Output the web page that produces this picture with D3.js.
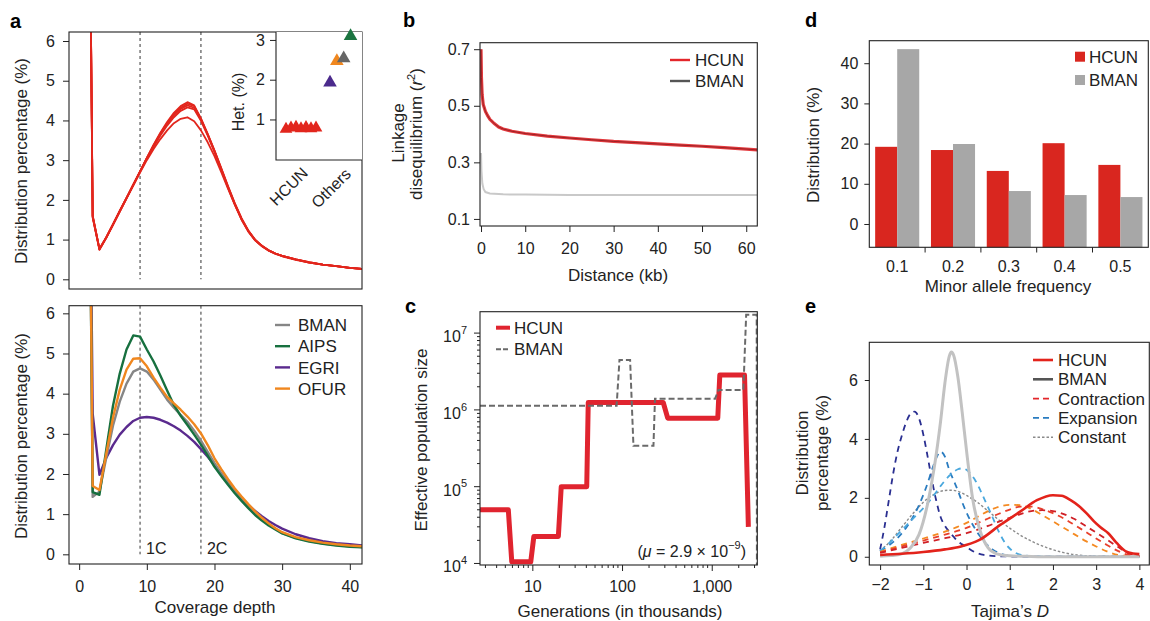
<!DOCTYPE html>
<html>
<head>
<meta charset="utf-8">
<script src="https://cdn.jsdelivr.net/npm/d3@7"></script>
<style>
  body { margin: 0; background: #fff; }
  svg { font-family: "Liberation Sans", Arial, Helvetica, sans-serif; }
</style>
</head>
<body>
<div id="chart"></div>
<script>
// ---------- panel a : coverage depth ----------
const depth = [1,2,3,4,5,6,7,8,9,10,11,12,13,14,15,16,17,18,19,20,21,22,23,24,25,26,27,28,29,30,32,34,36,38,40,42];
const hcunDepth = [
  [20,1.58,0.75,1.05,1.38,1.72,2.05,2.38,2.72,3.06,3.39,3.69,3.96,4.19,4.36,4.46,4.38,4.04,3.64,3.22,2.76,2.3,1.88,1.5,1.2,0.98,0.83,0.72,0.64,0.58,0.49,0.42,0.37,0.33,0.29,0.26],
  [20,1.6,0.77,1.06,1.39,1.72,2.05,2.38,2.71,3.05,3.37,3.67,3.93,4.16,4.32,4.42,4.36,4.05,3.66,3.24,2.79,2.33,1.9,1.52,1.22,0.99,0.84,0.73,0.65,0.59,0.5,0.43,0.37,0.33,0.29,0.26],
  [20,1.55,0.74,1.04,1.37,1.71,2.04,2.38,2.72,3.05,3.36,3.65,3.91,4.13,4.29,4.38,4.32,4.02,3.65,3.24,2.8,2.35,1.92,1.54,1.23,1.0,0.85,0.73,0.65,0.59,0.5,0.43,0.37,0.33,0.29,0.26],
  [20,1.57,0.76,1.05,1.38,1.72,2.05,2.38,2.71,3.04,3.34,3.62,3.87,4.08,4.24,4.33,4.28,3.99,3.62,3.21,2.77,2.32,1.9,1.52,1.22,0.99,0.84,0.73,0.65,0.59,0.5,0.42,0.37,0.33,0.29,0.26],
  [20,1.6,0.76,1.05,1.37,1.7,2.03,2.36,2.69,3.0,3.28,3.53,3.75,3.93,4.04,4.08,3.98,3.75,3.45,3.1,2.7,2.28,1.88,1.51,1.21,0.99,0.84,0.73,0.65,0.59,0.5,0.42,0.37,0.33,0.29,0.26]
];
const otherSpecies = ["BMAN", "AIPS", "EGRI", "OFUR"];
const otherDepth = {
  EGRI: [20,3.5,1.98,2.4,2.72,2.98,3.17,3.32,3.4,3.42,3.4,3.35,3.28,3.19,3.08,2.95,2.8,2.62,2.43,2.22,2.0,1.79,1.59,1.4,1.23,1.08,0.95,0.83,0.73,0.64,0.5,0.4,0.33,0.28,0.25,0.22],
  BMAN: [20,1.43,1.56,2.4,3.2,3.8,4.25,4.55,4.63,4.55,4.35,4.1,3.85,3.65,3.47,3.3,3.08,2.83,2.55,2.27,2.02,1.78,1.56,1.37,1.19,1.02,0.87,0.74,0.63,0.53,0.41,0.33,0.27,0.23,0.2,0.18],
  AIPS: [20,1.55,1.48,2.6,3.7,4.5,5.1,5.45,5.42,5.1,4.8,4.45,4.08,3.72,3.45,3.22,2.98,2.73,2.46,2.18,1.95,1.73,1.52,1.33,1.15,0.98,0.84,0.72,0.62,0.52,0.4,0.32,0.26,0.22,0.19,0.17],
  OFUR: [20,1.7,1.6,2.5,3.4,4.1,4.6,4.87,4.88,4.68,4.4,4.15,3.92,3.76,3.6,3.43,3.24,3.01,2.72,2.39,2.12,1.87,1.64,1.44,1.25,1.07,0.91,0.77,0.65,0.55,0.43,0.35,0.29,0.25,0.22,0.2]
};
const depthMarks = [9, 18];
const depthMarkLabels = ["1C", "2C"];
const depthTicks = [0, 10, 20, 30, 40];
const pctTicks = [0, 1, 2, 3, 4, 5, 6];
// inset heterozygosity
const hetHCUN = [0.76, 0.79, 0.81, 0.77, 0.8, 0.77, 0.79];
const hetOthers = [1.93, 2.47, 2.54, 3.1];
const hetOtherSpecies = ["EGRI", "OFUR", "BMAN", "AIPS"];
const hetTicks = [1, 2, 3];

// ---------- panel b : LD decay ----------
const ldDist = {
  HCUN: [0, 0.1, 0.25, 0.5, 1, 1.5, 2, 3, 4, 5, 7, 10, 15, 20, 25, 30, 35, 40, 45, 50, 55, 60, 62.5],
  BMAN: [0, 0.1, 0.3, 0.6, 1, 2, 5, 10, 20, 30, 40, 50, 62.5]
};
const ldR2 = {
  HCUN: [0.7, 0.6, 0.54, 0.505, 0.48, 0.465, 0.452, 0.437, 0.425, 0.418, 0.41, 0.402, 0.393, 0.386, 0.38, 0.374, 0.37, 0.365, 0.361, 0.357, 0.352, 0.347, 0.344],
  BMAN: [0.333, 0.27, 0.225, 0.205, 0.195, 0.19, 0.187, 0.186, 0.185, 0.185, 0.185, 0.185, 0.185]
};
const ldXTicks = [0, 10, 20, 30, 40, 50, 60];
const ldYTicks = [0.1, 0.3, 0.5, 0.7];

// ---------- panel c : PSMC ----------
const psmcGen = {
  HCUN: [2.61, 5.4, 5.9, 9.6, 10.4, 19.5, 21, 40.4, 42, 288, 323, 1167, 1230, 2320, 2560],
  BMAN: [2.61, 87, 93.6, 123, 134, 224, 233, 1090, 1190, 2250, 2420, 3170, 3190]
};
const psmcNe = {
  HCUN: [5e4, 5e4, 1.05e4, 1.05e4, 2.25e4, 2.25e4, 1e5, 1e5, 1.25e6, 1.25e6, 7.8e5, 7.8e5, 2.85e6, 2.85e6, 3e4],
  BMAN: [1.13e6, 1.13e6, 4.47e6, 4.47e6, 3.4e5, 3.4e5, 1.4e6, 1.4e6, 1.82e6, 1.82e6, 1.73e7, 1.73e7, 5e3]
};
const genTicks = [10, 100, 1000];
const neExponents = [4, 5, 6, 7];

// ---------- panel d : MAF ----------
const mafBins = ["0.1", "0.2", "0.3", "0.4", "0.5"];
const mafHCUN = [19.2, 18.4, 13.2, 20.1, 14.7];
const mafBMAN = [43.5, 19.9, 8.2, 7.2, 6.7];
const mafTicks = [0, 10, 20, 30, 40];

// ---------- panel e : Tajima's D ----------
const tajHCUN_x = [-2, -1.5, -1, -0.5, -0.15, 0.3, 0.78, 1.24, 1.63, 2.0, 2.2, 2.4, 2.6, 2.78, 2.95, 3.1, 3.28, 3.48, 3.7, 3.85, 4];
const tajHCUN_y = [0.06, 0.1, 0.16, 0.25, 0.34, 0.57, 1.08, 1.53, 1.92, 2.09, 2.07, 1.93, 1.72, 1.47, 1.2, 1.0, 0.8, 0.46, 0.17, 0.11, 0.09];
const tajBMAN_x = [-2, -1.75, -1.5, -1.3, -1.1, -0.9, -0.75, -0.6, -0.5, -0.4, -0.35, -0.3, -0.2, -0.1, 0, 0.15, 0.3, 0.5, 0.7, 1, 1.5, 2, 3, 4];
const tajBMAN_y = [0.02, 0.04, 0.1, 0.3, 0.75, 1.8, 3.0, 4.6, 5.9, 6.8, 6.95, 6.85, 6.1, 4.9, 3.6, 1.9, 0.95, 0.3, 0.1, 0.03, 0.01, 0, 0, 0];
const contrX = [-2, -1.5, -1, -0.5, 0, 0.5, 0.75, 1, 1.25, 1.5, 1.75, 2, 2.25, 2.5, 2.75, 3, 3.25, 3.5, 3.75, 4];
const contrY = [
  [0.17, 0.4, 0.62, 0.85, 1.15, 1.55, 1.7, 1.76, 1.75, 1.62, 1.42, 1.2, 0.98, 0.76, 0.54, 0.35, 0.18, 0.06, 0.02, 0.01],
  [0.15, 0.35, 0.55, 0.75, 0.98, 1.3, 1.46, 1.6, 1.7, 1.7, 1.62, 1.48, 1.3, 1.08, 0.85, 0.62, 0.4, 0.2, 0.06, 0.02],
  [0.13, 0.3, 0.47, 0.63, 0.8, 1.05, 1.19, 1.32, 1.45, 1.55, 1.58, 1.55, 1.45, 1.28, 1.05, 0.82, 0.58, 0.34, 0.12, 0.03]
];
const contrColors = ["#f48a22", "#e8402c", "#cf2027"];
const expX = [
  [-2, -1.9, -1.8, -1.7, -1.6, -1.5, -1.4, -1.3, -1.2, -1.1, -1.0, -0.9, -0.8, -0.7, -0.6, -0.5, -0.4, -0.3, -0.2, -0.1, 0, 0.2, 0.4, 0.7, 1, 2, 3, 4],
  [-2, -1.8, -1.6, -1.4, -1.2, -1.0, -0.9, -0.8, -0.7, -0.6, -0.5, -0.4, -0.3, -0.2, -0.1, 0, 0.1, 0.2, 0.3, 0.45, 0.6, 0.8, 1, 1.5, 2, 3, 4],
  [-2, -1.8, -1.6, -1.4, -1.2, -1.0, -0.8, -0.6, -0.4, -0.3, -0.2, -0.1, 0, 0.1, 0.2, 0.3, 0.4, 0.5, 0.6, 0.7, 0.8, 0.9, 1.0, 1.2, 1.5, 2, 3, 4]
];
const expY = [
  [0.25, 1.0, 1.9, 2.8, 3.55, 4.1, 4.55, 4.85, 4.93, 4.7, 4.15, 3.4, 2.6, 1.9, 1.35, 1.05, 0.85, 0.68, 0.52, 0.42, 0.33, 0.15, 0.06, 0.02, 0.01, 0, 0, 0],
  [0.2, 0.38, 0.63, 0.98, 1.45, 2.1, 2.5, 2.95, 3.35, 3.57, 3.4, 2.95, 2.6, 2.25, 1.85, 1.5, 1.2, 0.95, 0.72, 0.45, 0.25, 0.1, 0.04, 0.01, 0, 0, 0],
  [0.2, 0.45, 0.75, 1.05, 1.35, 1.65, 2.0, 2.4, 2.75, 2.88, 2.97, 3.0, 2.95, 2.8, 2.6, 2.32, 2.0, 1.68, 1.35, 1.0, 0.7, 0.45, 0.28, 0.09, 0.02, 0, 0, 0]
];
const expColors = ["#2a2f91", "#2a7cc0", "#4aa8de"];
const constX = [-2, -1.75, -1.5, -1.25, -1.0, -0.75, -0.5, -0.35, -0.2, 0, 0.25, 0.5, 0.75, 1.0, 1.25, 1.5, 1.75, 2.0, 2.25, 2.5, 3, 3.5, 4];
const constY = [0.2, 0.55, 1.0, 1.45, 1.85, 2.12, 2.25, 2.26, 2.22, 2.08, 1.85, 1.55, 1.25, 0.97, 0.73, 0.53, 0.37, 0.24, 0.14, 0.07, 0.02, 0.01, 0];
const tajXTicks = [-2, -1, 0, 1, 2, 3, 4];
const tajYTicks = [0, 2, 4, 6];

// ---------- colours ----------
const red = "#e2261d";
const speciesColor = { BMAN: "#868686", AIPS: "#17703f", EGRI: "#5a2a8e", OFUR: "#f0871f" };
const markerColor = { EGRI: "#4b2a8c", OFUR: "#f0871f", BMAN: "#666666", AIPS: "#1b7440" };
const ink = "#222";
const intFmt = d3.format("d");

const svg = d3.select("#chart").append("svg").attr("width", 1150).attr("height", 621);
const defs = svg.append("defs");

function clip(id, x0, y0, x1, y1) {
  defs.append("clipPath").attr("id", id).append("rect")
    .attr("x", x0).attr("y", y0).attr("width", x1 - x0).attr("height", y1 - y0);
  return "url(#" + id + ")";
}
function frame(x0, y0, x1, y1) {
  svg.append("rect").attr("x", x0).attr("y", y0).attr("width", x1 - x0).attr("height", y1 - y0)
    .attr("fill", "none").attr("stroke", ink).attr("stroke-width", 1.1);
}
function styleAxis(g) {
  g.attr("font-size", 16).attr("font-family", null);
  g.select(".domain").remove();
  g.selectAll(".tick line").attr("stroke", ink);
  g.selectAll(".tick text").attr("fill", ink);
  return g;
}
function text(x, y, t, anchor, size) {
  return svg.append("text").attr("x", x).attr("y", y).attr("text-anchor", anchor || "middle")
    .attr("font-size", size || 17).attr("fill", ink).text(t);
}
function vtext(x, y, t, size) {
  return svg.append("text").attr("transform", "translate(" + x + "," + y + ") rotate(-90)")
    .attr("text-anchor", "middle").attr("font-size", size || 17).attr("fill", ink).text(t);
}
function letter(x, y, t) {
  svg.append("text").attr("x", x).attr("y", y).attr("font-size", 20).attr("font-weight", "bold")
    .attr("fill", "#000").text(t);
}

// =============== PANEL A ===============
letter(10, 28, "a");
const xA = d3.scaleLinear().domain([-1.5, 41.8]).range([69, 362]);
const yA1 = d3.scaleLinear().domain([-0.244, 6.227]).range([289, 32]);
const yA2 = d3.scaleLinear().domain([-0.241, 6.19]).range([564, 305.7]);

// top
const clipA1 = clip("ca1", 69, 32, 362, 289);
svg.append("g").selectAll("line").data(depthMarks).join("line")
  .attr("x1", d => xA(d)).attr("x2", d => xA(d)).attr("y1", 32).attr("y2", yA1(0))
  .attr("stroke", "#333").attr("stroke-width", 1).attr("stroke-dasharray", "3,3");
const lineA1 = d3.line().x((d, i) => xA(depth[i])).y(d => yA1(d));
svg.append("g").attr("clip-path", clipA1).selectAll("path").data(hcunDepth).join("path")
  .attr("d", lineA1).attr("fill", "none").attr("stroke", red).attr("stroke-width", 1.8)
  .attr("stroke-linejoin", "round");
styleAxis(svg.append("g").attr("transform", "translate(69,0)")
  .call(d3.axisLeft(yA1).tickValues(pctTicks).tickFormat(intFmt).tickSize(6).tickPadding(8)));
frame(69, 32, 362, 289);
vtext(27, 161, "Distribution percentage (%)");

// inset
const xIn = d3.scaleLinear().domain([0, 17.2]).range([276, 362]);
const yIn = d3.scaleLinear().domain([-0.02, 3.2]).range([160, 32]);
svg.append("rect").attr("x", 276).attr("y", 32).attr("width", 86).attr("height", 128).attr("fill", "#fff");
const tri = d3.symbol().type(d3.symbolTriangle).size(70);
svg.append("g").selectAll("path").data(hetHCUN).join("path")
  .attr("d", tri).attr("fill", red)
  .attr("transform", (d, i) => "translate(" + xIn(2 + i) + "," + yIn(d) + ")");
svg.append("g").selectAll("path").data(hetOthers).join("path")
  .attr("d", d3.symbol().type(d3.symbolTriangle).size(80)).attr("fill", (d, i) => markerColor[hetOtherSpecies[i]])
  .attr("transform", (d, i) => "translate(" + xIn(10.8 + i * 1.37) + "," + yIn(d) + ")");
styleAxis(svg.append("g").attr("transform", "translate(276,0)")
  .call(d3.axisLeft(yIn).tickValues(hetTicks).tickFormat(intFmt).tickSize(6).tickPadding(5)));
svg.append("path").attr("d", "M276,32V160H362").attr("fill", "none").attr("stroke", ink).attr("stroke-width", 1.1);
vtext(244, 102, "Het. (%)", 16);
svg.append("text").attr("transform", "translate(" + xIn(6.6) + ",174) rotate(-45)")
  .attr("text-anchor", "end").attr("font-size", 16).attr("fill", ink).text("HCUN");
svg.append("text").attr("transform", "translate(" + xIn(15.2) + ",175) rotate(-45)")
  .attr("text-anchor", "end").attr("font-size", 16).attr("fill", ink).text("Others");

// bottom
const clipA2 = clip("ca2", 69, 305.7, 362, 564);
svg.append("g").selectAll("line").data(depthMarks).join("line")
  .attr("x1", d => xA(d)).attr("x2", d => xA(d)).attr("y1", 305.7).attr("y2", yA2(0))
  .attr("stroke", "#333").attr("stroke-width", 1).attr("stroke-dasharray", "3,3");
svg.append("g").selectAll("text").data(depthMarks).join("text")
  .attr("x", d => xA(d) + 6).attr("y", 554).attr("font-size", 16).attr("fill", ink)
  .text((d, i) => depthMarkLabels[i]);
const lineA2 = d3.line().x((d, i) => xA(depth[i])).y(d => yA2(d));
svg.append("g").attr("clip-path", clipA2).selectAll("path").data(["EGRI", "BMAN", "AIPS", "OFUR"]).join("path")
  .attr("d", s => lineA2(otherDepth[s])).attr("fill", "none").attr("stroke", s => speciesColor[s])
  .attr("stroke-width", 2.4).attr("stroke-linejoin", "round");
styleAxis(svg.append("g").attr("transform", "translate(69,0)")
  .call(d3.axisLeft(yA2).tickValues(pctTicks).tickFormat(intFmt).tickSize(6).tickPadding(8)));
styleAxis(svg.append("g").attr("transform", "translate(0,564)")
  .call(d3.axisBottom(xA).tickValues(depthTicks).tickFormat(intFmt).tickSize(6).tickPadding(10.5)));
frame(69, 305.7, 362, 564);
vtext(27, 436, "Distribution percentage (%)");
text(215, 613, "Coverage depth");
const legA = svg.append("g").selectAll("g").data(otherSpecies).join("g")
  .attr("transform", (d, i) => "translate(275," + (325 + i * 21.2) + ")");
legA.append("line").attr("x1", 0).attr("x2", 15).attr("stroke", d => speciesColor[d]).attr("stroke-width", 2.4);
legA.append("text").attr("x", 23).attr("dy", "0.36em").attr("font-size", 17).attr("fill", ink).text(d => d);

// =============== PANEL B ===============
letter(403, 27, "b");
const xB = d3.scaleLinear().domain([-0.23, 62.5]).range([480, 757.3]);
const yB = d3.scaleLinear().domain([0.075, 0.723]).range([226, 42.7]);
const clipB = clip("cb", 480, 42.7, 757.3, 226);
const gB = svg.append("g").attr("clip-path", clipB);
const ldLine = k => d3.line().x((d, i) => xB(ldDist[k][i])).y(d => yB(d))(ldR2[k]);
gB.append("path").attr("d", ldLine("BMAN")).attr("fill", "none").attr("stroke", "#c9c9c9").attr("stroke-width", 2);
gB.append("path").attr("d", ldLine("HCUN")).attr("fill", "none").attr("stroke", "#e33a3e").attr("stroke-width", 3.2);
gB.append("path").attr("d", ldLine("HCUN")).attr("fill", "none").attr("stroke", "#8a1c1f").attr("stroke-width", 1).attr("opacity", 0.8);
styleAxis(svg.append("g").attr("transform", "translate(480,0)")
  .call(d3.axisLeft(yB).tickValues(ldYTicks).tickFormat(d3.format(".1f")).tickSize(6).tickPadding(4)));
styleAxis(svg.append("g").attr("transform", "translate(0,226)")
  .call(d3.axisBottom(xB).tickValues(ldXTicks).tickFormat(intFmt).tickSize(6).tickPadding(10.5)));
frame(480, 42.7, 757.3, 226);
vtext(404, 133, "Linkage");
const ldT = svg.append("text").attr("transform", "translate(422,134) rotate(-90)")
  .attr("text-anchor", "middle").attr("font-size", 17).attr("fill", ink);
ldT.append("tspan").text("disequilibrium (");
ldT.append("tspan").attr("font-style", "italic").text("r");
ldT.append("tspan").attr("font-size", 11).attr("dy", "-0.6em").text("2");
ldT.append("tspan").attr("dy", "0.4em").text(")");
text(618, 281, "Distance (kb)");
const legB = svg.append("g").selectAll("g").data(["HCUN", "BMAN"]).join("g")
  .attr("transform", (d, i) => "translate(670," + (60 + i * 21) + ")");
legB.append("line").attr("x1", 0).attr("x2", 20).attr("stroke", (d, i) => i ? "#555" : "#e3262b").attr("stroke-width", 2.4);
legB.append("text").attr("x", 25).attr("dy", "0.36em").attr("font-size", 17).attr("fill", ink).text(d => d);

// =============== PANEL C ===============
letter(405, 313, "c");
const xC = d3.scaleLog().domain([2.61, 3220]).range([480, 757.3]);
const yC = d3.scaleLog().domain([9550, 1.9e7]).range([565, 311.7]);
const clipC = clip("cc", 480, 311.7, 757.3, 565);
const gC = svg.append("g").attr("clip-path", clipC);
const psmcLine = k => d3.line().x((d, i) => xC(psmcGen[k][i])).y(d => yC(d))(psmcNe[k]);
gC.append("path").attr("d", psmcLine("HCUN")).attr("fill", "none").attr("stroke", "#e0242f")
  .attr("stroke-width", 5).attr("stroke-linejoin", "round");
gC.append("path").attr("d", psmcLine("BMAN")).attr("fill", "none").attr("stroke", "#6a6a6a")
  .attr("stroke-width", 2).attr("stroke-dasharray", "6,3");
// y ticks major + minor
const yMinor = [];
neExponents.forEach(e => { for (let m = 2; m <= 9; m++) { const v = m * Math.pow(10, e); if (v < 1.9e7) yMinor.push(v); } });
svg.append("g").selectAll("line").data(yMinor).join("line")
  .attr("x1", 477).attr("x2", 480).attr("y1", d => yC(d)).attr("y2", d => yC(d)).attr("stroke", ink);
svg.append("g").selectAll("line").data(neExponents).join("line")
  .attr("x1", 474).attr("x2", 480).attr("y1", d => yC(Math.pow(10, d))).attr("y2", d => yC(Math.pow(10, d))).attr("stroke", ink);
const yLab = svg.append("g").selectAll("text").data(neExponents).join("text")
  .attr("x", 467).attr("y", d => yC(Math.pow(10, d)) + 9).attr("text-anchor", "end")
  .attr("font-size", 16).attr("fill", ink);
yLab.append("tspan").text("10");
yLab.append("tspan").attr("font-size", 11).attr("dy", "-0.75em").text(d => d);
// x ticks
const xMinor = [3, 4, 5, 6, 7, 8, 9, 20, 30, 40, 50, 60, 70, 80, 90, 200, 300, 400, 500, 600, 700, 800, 900, 2000, 3000];
svg.append("g").selectAll("line").data(xMinor).join("line")
  .attr("x1", d => xC(d)).attr("x2", d => xC(d)).attr("y1", 565).attr("y2", 568).attr("stroke", ink);
styleAxis(svg.append("g").attr("transform", "translate(0,565)")
  .call(d3.axisBottom(xC).tickValues(genTicks).tickFormat(d3.format(",")).tickSize(6).tickPadding(9.5)));
frame(480, 311.7, 757.3, 565);
vtext(427, 440, "Effective population size");
text(620, 617, "Generations (in thousands)");
const mu = svg.append("text").attr("x", 746).attr("y", 557).attr("text-anchor", "end")
  .attr("font-size", 16).attr("fill", ink);
mu.append("tspan").text("(");
mu.append("tspan").attr("font-style", "italic").text("μ");
mu.append("tspan").text(" = 2.9 × 10");
mu.append("tspan").attr("font-size", 11).attr("dy", "-0.7em").text("−9");
mu.append("tspan").attr("dy", "0.45em").text(")");
const legC = svg.append("g").selectAll("g").data(["HCUN", "BMAN"]).join("g")
  .attr("transform", (d, i) => "translate(496," + (327.7 + i * 21.6) + ")");
legC.append("line").attr("x1", 0).attr("x2", 14).attr("stroke", (d, i) => i ? "#6a6a6a" : "#e0242f")
  .attr("stroke-width", (d, i) => i ? 2 : 4).attr("stroke-dasharray", (d, i) => i ? "5,2" : null);
legC.append("text").attr("x", 18).attr("dy", "0.36em").attr("font-size", 17).attr("fill", ink).text(d => d);

// =============== PANEL D ===============
letter(805, 27, "d");
const xD = d3.scaleBand().domain(mafBins).range([869.3, 1148.3]).paddingInner(0.21).paddingOuter(0.105);
const yD = d3.scaleLinear().domain([-5.8, 45.6]).range([247.3, 40.7]);
const bw = xD.bandwidth() / 2;
svg.append("g").selectAll("rect").data(mafHCUN).join("rect")
  .attr("x", (d, i) => xD(mafBins[i])).attr("width", bw)
  .attr("y", d => yD(d)).attr("height", d => 247.3 - yD(d)).attr("fill", "#d9261f");
svg.append("g").selectAll("rect").data(mafBMAN).join("rect")
  .attr("x", (d, i) => xD(mafBins[i]) + bw).attr("width", bw)
  .attr("y", d => yD(d)).attr("height", d => 247.3 - yD(d)).attr("fill", "#a7a7a7");
styleAxis(svg.append("g").attr("transform", "translate(869.3,0)")
  .call(d3.axisLeft(yD).tickValues(mafTicks).tickFormat(intFmt).tickSize(5).tickPadding(6)));
svg.append("g").selectAll("line").data(mafBins.slice(0, 4)).join("line")
  .attr("x1", d => xD(d) + xD.bandwidth() + (xD.step() - xD.bandwidth()) / 2)
  .attr("x2", d => xD(d) + xD.bandwidth() + (xD.step() - xD.bandwidth()) / 2)
  .attr("y1", 247.3).attr("y2", 252.5).attr("stroke", ink);
svg.append("g").selectAll("text").data(mafBins).join("text")
  .attr("x", d => xD(d) + xD.bandwidth() / 2).attr("y", 272).attr("text-anchor", "middle")
  .attr("font-size", 16).attr("fill", ink).text(d => d);
frame(869.3, 40.7, 1148.3, 247.3);
vtext(819, 145, "Distribution (%)");
text(1008, 292, "Minor allele frequency");
const legD = svg.append("g").selectAll("g").data(["HCUN", "BMAN"]).join("g")
  .attr("transform", (d, i) => "translate(1075," + (56.7 + i * 23.3) + ")");
legD.append("rect").attr("x", 0).attr("y", -5).attr("width", 10).attr("height", 10)
  .attr("fill", (d, i) => i ? "#a7a7a7" : "#d9261f");
legD.append("text").attr("x", 14).attr("dy", "0.36em").attr("font-size", 17).attr("fill", ink).text(d => d);

// =============== PANEL E ===============
letter(805, 313, "e");
const xE = d3.scaleLinear().domain([-2.25, 4.23]).range([869.3, 1149.3]);
const yE = d3.scaleLinear().domain([-0.28, 7.28]).range([565, 342.3]);
const clipE = clip("ce", 869.3, 342.3, 1149.3, 565);
const gE = svg.append("g").attr("clip-path", clipE);
const lineE = (xs, ys) => d3.line().x((d, i) => xE(xs[i])).y(d => yE(d)).curve(d3.curveMonotoneX)(ys);
gE.append("path").attr("d", lineE(constX, constY)).attr("fill", "none").attr("stroke", "#8a8a8a")
  .attr("stroke-width", 1.4).attr("stroke-dasharray", "2.5,2");
expY.forEach((ys, k) => {
  gE.append("path").attr("d", lineE(expX[k], ys)).attr("fill", "none").attr("stroke", expColors[k])
    .attr("stroke-width", 1.8).attr("stroke-dasharray", "6,5");
});
contrY.forEach((ys, k) => {
  gE.append("path").attr("d", lineE(contrX, ys)).attr("fill", "none").attr("stroke", contrColors[k])
    .attr("stroke-width", 1.8).attr("stroke-dasharray", "6,5");
});
gE.append("path").attr("d", lineE(tajBMAN_x, tajBMAN_y)).attr("fill", "none").attr("stroke", "#c2c2c2")
  .attr("stroke-width", 3);
gE.append("path").attr("d", lineE(tajHCUN_x, tajHCUN_y)).attr("fill", "none").attr("stroke", "#e3231b")
  .attr("stroke-width", 2.6);
styleAxis(svg.append("g").attr("transform", "translate(869.3,0)")
  .call(d3.axisLeft(yE).tickValues(tajYTicks).tickFormat(intFmt).tickSize(4.5).tickPadding(7)));
styleAxis(svg.append("g").attr("transform", "translate(0,565)")
  .call(d3.axisBottom(xE).tickValues(tajXTicks).tickFormat(intFmt).tickSize(5).tickPadding(8.5)));
frame(869.3, 342.3, 1149.3, 565);
vtext(808, 453, "Distribution");
vtext(828, 453, "percentage (%)");
const tj = svg.append("text").attr("x", 1010).attr("y", 616.5).attr("text-anchor", "middle")
  .attr("font-size", 17).attr("fill", ink);
tj.append("tspan").text("Tajima’s ");
tj.append("tspan").attr("font-style", "italic").text("D");
const legENames = ["HCUN", "BMAN", "Contraction", "Expansion", "Constant"];
const legEStroke = ["#e3231b", "#555", "#e3262b", "#2a7cc0", "#8a8a8a"];
const legEDash = [null, null, "6,4", "6,4", "2.5,2"];
const legEWidth = [2.6, 2.6, 1.8, 1.8, 1.4];
const legE = svg.append("g").selectAll("g").data(legENames).join("g")
  .attr("transform", (d, i) => "translate(1033," + (360 + i * 19.3) + ")");
legE.append("line").attr("x1", 0).attr("x2", 20).attr("stroke", (d, i) => legEStroke[i])
  .attr("stroke-width", (d, i) => legEWidth[i]).attr("stroke-dasharray", (d, i) => legEDash[i]);
legE.append("text").attr("x", 25).attr("dy", "0.36em").attr("font-size", 17).attr("fill", ink).text(d => d);
</script>
</body>
</html>
